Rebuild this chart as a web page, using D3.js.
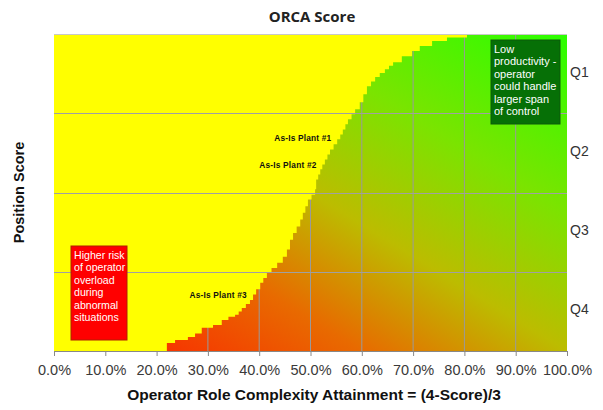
<!DOCTYPE html>
<html>
<head>
<meta charset="utf-8">
<title>ORCA Score</title>
<script src="https://d3js.org/d3.v7.min.js"></script>
<style>
  body { margin: 0; background: #fff; }
</style>
</head>
<body>
<div id="chart"></div>
<script>
// tick values on the x axis (percent)
let xTicks = [0, 10, 20, 30, 40, 50, 60, 70, 80, 90, 100]
let quartiles = ["Q1", "Q2", "Q3", "Q4"]

// step boundary: attainment (%) and cumulative share of positions (%)
let attainment = [0, 22.0, 23.6, 26.1, 27.5, 28.8, 31.0, 32.7, 34.0, 35.3, 36.0, 36.6, 37.4, 38.2,
  38.8, 39.4, 40.2, 40.8, 41.5, 42.4, 43.5, 44.6, 45.4, 46.0, 46.6, 47.3, 48.0, 48.5, 49.0,
  49.5, 50.2, 50.9, 51.1, 51.5, 51.9, 52.3, 52.8, 53.3, 53.8, 54.5, 55.2, 55.8, 56.3, 56.8,
  57.3, 58.0, 58.7, 59.6, 60.3, 61.0, 61.8, 62.6, 63.5, 64.5, 65.3, 66.1, 67.8, 69.8, 71.3,
  73.7, 76.6, 80.5, 100]
let share = [0, 2.5, 3.5, 4.4, 5.5, 7.3, 8.2, 9.8, 10.8, 11.4, 12.5, 13.6, 14.8, 16.1,
  17.8, 19.5, 21.5, 23.0, 24.7, 26.2, 27.8, 29.7, 32.0, 35.1, 37.2, 39.3, 41.5, 43.6, 45.7,
  47.8, 49.3, 51.0, 54.1, 55.7, 57.3, 58.8, 60.4, 62.0, 63.6, 65.2, 66.8, 68.3, 69.9, 71.5,
  73.1, 74.7, 76.3, 78.5, 81.0, 83.5, 85.0, 86.4, 87.7, 88.9, 90.0, 91.1, 93.0, 94.6, 96.2,
  97.8, 98.9, 100, 100]

// plant labels
let plantNames = ["As-Is Plant #1", "As-Is Plant #2", "As-Is Plant #3"]
let plantX = [48.5, 45.6, 32.0]
let plantY = [67.1, 58.5, 17.7]

let greenNote = ["Low", "productivity -", "operator", "could handle", "larger span", "of control"]
let redNote = ["Higher risk", "of operator", "overload", "during", "abnormal", "situations"]

let margin = {top: 34, right: 36, bottom: 59, left: 54}
let w = 603 - margin.left - margin.right
let h = 410 - margin.top - margin.bottom

let svg = d3.select("#chart")
  .append("svg")
    .attr("width", 603)
    .attr("height", 410)

let defs = svg.append("defs")
let grad = defs.append("linearGradient")
  .attr("id", "orca")
  .attr("x1", 0).attr("y1", 1)
  .attr("x2", 1).attr("y2", 0)
let stops = [[0, "#ff1800"], [0.3, "#e86a00"], [0.5, "#bcbc00"], [0.72, "#7ae400"], [1, "#2aff00"]]
stops.forEach(function(s) {
  grad.append("stop").attr("offset", s[0]).attr("stop-color", s[1])
})

let g = svg.append("g")
  .attr("transform", "translate(" + margin.left + "," + margin.top + ")")

let xScale = d3.scaleLinear().domain([0, 100]).range([0, w])
let yScale = d3.scaleLinear().domain([0, 100]).range([h, 0])
let bandScale = d3.scaleBand().domain(quartiles).range([0, h])

// gradient background
g.append("rect")
  .attr("width", w)
  .attr("height", h)
  .attr("fill", "url(#orca)")

// vertical grid (hidden by yellow)
g.selectAll(".vgrid")
  .data(xTicks.slice(1, -1))
  .enter()
  .append("line")
  .attr("x1", d => xScale(d)).attr("x2", d => xScale(d))
  .attr("y1", 0).attr("y2", h)
  .attr("stroke", "#9a9a9a")
  .attr("stroke-width", 1)

// yellow region above the step curve
let pts = attainment.map((a, i) => [a, share[i]])
let area = d3.area()
  .x(d => xScale(d[0]))
  .y0(0)
  .y1(d => yScale(d[1]))
  .curve(d3.curveStepAfter)

g.append("path")
  .datum(pts)
  .attr("d", area)
  .attr("fill", "#ffff00")

// horizontal grid at quartile boundaries
g.selectAll(".hgrid")
  .data(quartiles.slice(1))
  .enter()
  .append("line")
  .attr("x1", 0).attr("x2", w)
  .attr("y1", d => Math.round(bandScale(d)) + 0.5)
  .attr("y2", d => Math.round(bandScale(d)) + 0.5)
  .attr("stroke", "#a0a0a0")
  .attr("stroke-width", 1)

// top border
g.append("line")
  .attr("x1", 0).attr("x2", w).attr("y1", 0.5).attr("y2", 0.5)
  .attr("stroke", "#c8c8c8")

// x axis
let xAxis = d3.axisBottom(xScale)
  .tickValues(xTicks)
  .tickSize(5)
  .tickFormat(d => d.toFixed(1) + "%")

let xg = g.append("g")
  .attr("transform", "translate(0," + h + ")")
  .call(xAxis)
xg.select(".domain").attr("stroke", "#888")
xg.selectAll(".tick line").attr("stroke", "#888")
xg.selectAll(".tick text")
  .attr("y", 14)
  .attr("font-family", "Liberation Sans, Arial, sans-serif")
  .attr("font-size", "14.5px")
  .attr("fill", "#3a3a3a")

// quartile labels on right
g.selectAll(".qlab")
  .data(quartiles)
  .enter()
  .append("text")
  .attr("x", w + 3)
  .attr("y", d => bandScale(d) + bandScale.bandwidth() / 2 - 2)
  .attr("dy", "0.35em")
  .attr("font-family", "Liberation Sans, Arial, sans-serif")
  .attr("font-size", "14px")
  .attr("fill", "#333")
  .text(d => d)

// plant labels
g.selectAll(".plant")
  .data(plantNames)
  .enter()
  .append("text")
  .attr("x", (d, i) => xScale(plantX[i]))
  .attr("y", (d, i) => yScale(plantY[i]))
  .attr("dy", "0.35em")
  .attr("text-anchor", "middle")
  .attr("font-family", "Liberation Sans, Arial, sans-serif")
  .attr("font-weight", "bold")
  .attr("font-size", "8.3px")
  .attr("letter-spacing", "0.2px")
  .attr("fill", "#111")
  .text(d => d)

// note boxes
function note(lines, x, y, bw, bh, fill, stroke, fs) {
  let ng = g.append("g").attr("transform", "translate(" + x + "," + y + ")")
  ng.append("rect")
    .attr("width", bw).attr("height", bh)
    .attr("fill", fill).attr("stroke", stroke).attr("stroke-width", 1)
  ng.selectAll("text")
    .data(lines)
    .enter()
    .append("text")
    .attr("x", 3)
    .attr("y", (d, i) => 9 + i * 12.5)
    .attr("dy", "0.35em")
    .attr("font-family", "Liberation Sans, Arial, sans-serif")
    .attr("font-size", fs)
    .attr("fill", "#fff")
    .text(d => d)
}
note(greenNote, 437, 6, 69, 84, "#067006", "#0a5a0a", "11px")
note(redNote, 17, 212, 56, 94, "#ff0000", "#b02000", "10.6px")

// titles
svg.append("text")
  .attr("x", 312)
  .attr("y", 22)
  .attr("text-anchor", "middle")
  .attr("font-family", "Open Sans, sans-serif")
  .attr("font-weight", "bold")
  .attr("font-size", "15px")
  .attr("fill", "#222")
  .text("ORCA Score")

svg.append("text")
  .attr("x", 314)
  .attr("y", 400)
  .attr("text-anchor", "middle")
  .attr("font-family", "Liberation Sans, Arial, sans-serif")
  .attr("font-weight", "bold")
  .attr("font-size", "15.5px")
  .attr("fill", "#111")
  .text("Operator Role Complexity Attainment = (4-Score)/3")

svg.append("text")
  .attr("transform", "translate(24," + (margin.top + h / 2) + ") rotate(-90)")
  .attr("text-anchor", "middle")
  .attr("font-family", "Liberation Sans, Arial, sans-serif")
  .attr("font-weight", "bold")
  .attr("font-size", "14.5px")
  .attr("fill", "#111")
  .text("Position Score")
</script>
</body>
</html>
